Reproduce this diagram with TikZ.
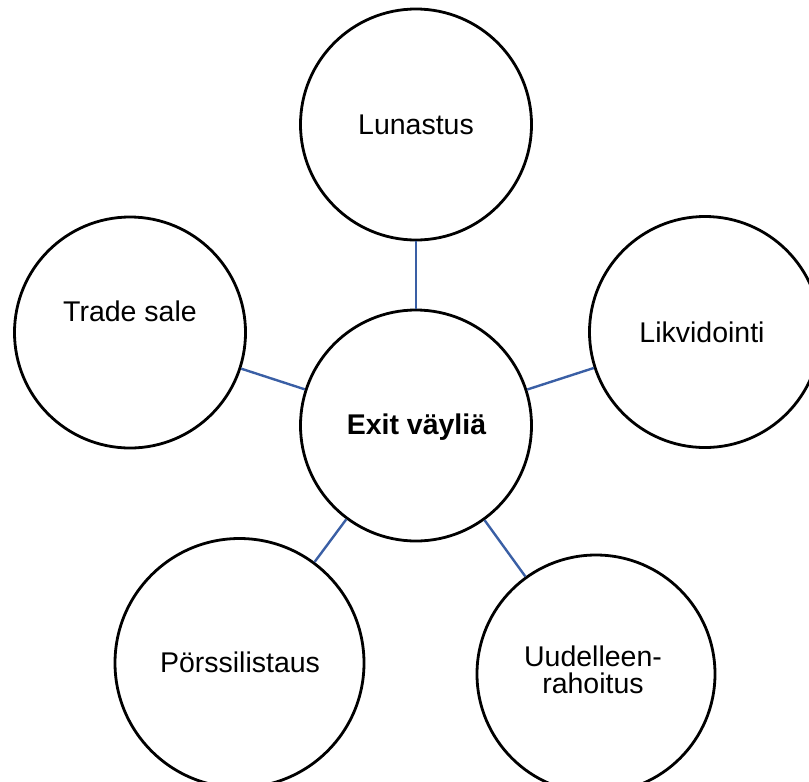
\documentclass[tikz,border=0pt]{standalone}
\usepackage{fontspec}
\setmainfont{Liberation Sans}
\definecolor{linkblue}{RGB}{58,95,165}
\begin{document}
\begin{tikzpicture}[x=1pt,y=-1pt,
  bubble/.style={draw=black,line width=2.8pt,circle,inner sep=0pt,fill=white},
  lbl/.style={font=\fontsize{28.5}{27}\selectfont,inner sep=0pt,align=center},
  link/.style={draw=linkblue,line width=2.4pt}]
\useasboundingbox (0,0) rectangle (809,782);
% circles
\node[bubble,minimum size=231pt] (c) at (416,425.5) {};
\node[bubble,minimum size=231pt] (top) at (416,124.5) {};
\node[bubble,minimum size=231pt] (ts) at (130,332.5) {};
\node[bubble,minimum size=231pt] (lk) at (705,332) {};
\node[bubble,minimum size=249pt] (ps) at (239.5,663) {};
\node[bubble,minimum size=238pt] (ur) at (596,674) {};
% connectors
\draw[link] (c) -- (top);
\draw[link] (c) -- (ts);
\draw[link] (c) -- (lk);
\draw[link] (c) -- (ps);
\draw[link] (c) -- (ur);
% labels
\node[lbl,anchor=base] (tc) at (416.5,434) {\textbf{Exit väyliä}};
\node[lbl,anchor=base] (ttop) at (416,134) {Lunastus};
\node[lbl,anchor=base] (tts) at (130,321) {Trade sale};
\node[lbl,anchor=base] (tlk) at (702,342) {Likvidointi};
\node[lbl,anchor=base] (tps) at (240,672) {Pörssilistaus};
\node[lbl] (tur) at (593,669.5) {Uudelleen-\\rahoitus};
\end{tikzpicture}
\end{document}
